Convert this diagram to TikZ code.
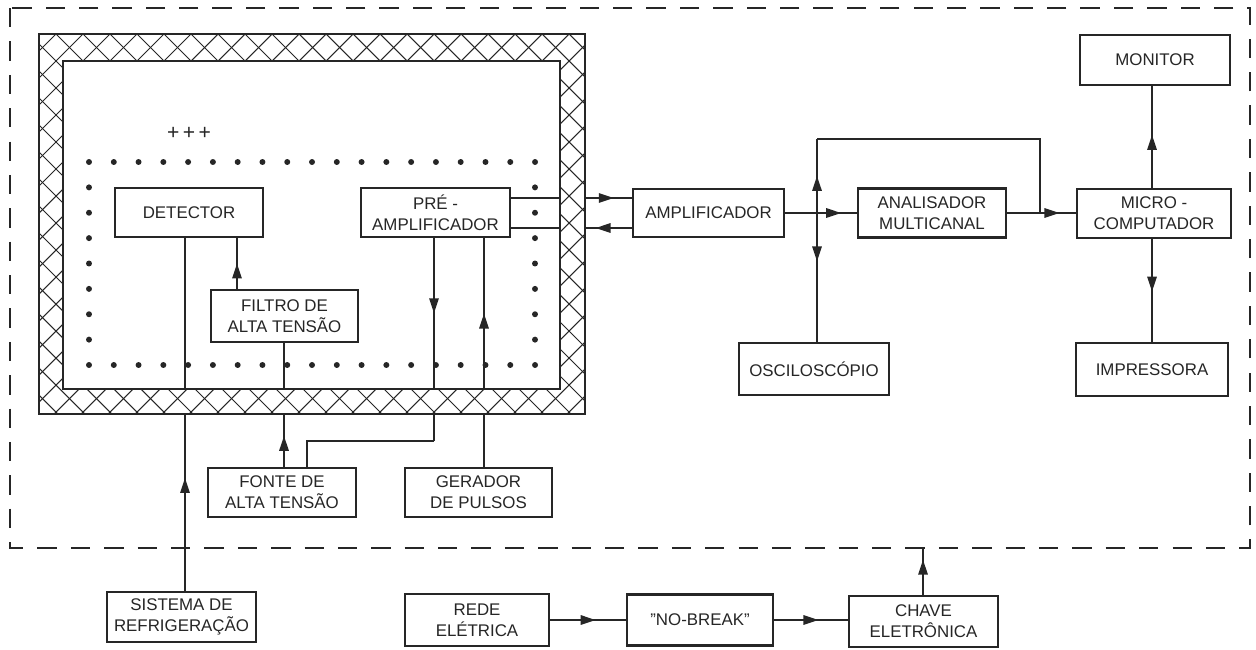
\documentclass[tikz,border=0pt]{standalone}
\usepackage{fontspec}
\setmainfont{Liberation Sans}
\usetikzlibrary{arrows.meta,decorations.markings,calc}
\definecolor{ink}{gray}{0.15}
\tikzset{
 box/.style={draw=ink, line width=1.3pt, align=center, inner sep=0pt, fill=white,
   font=\fontsize{9.6}{12}\selectfont, text=ink},
 sz/.style 2 args={minimum width=#1*0.02cm, minimum height=#2*0.02cm},
 wire/.style={draw=ink, line width=0.9pt},
 marr/.style={wire, postaction={decorate},
   decoration={markings, mark=at position #1 with {\arrow[ink]{Triangle[length=8.5pt,width=5.4pt]}}}},
 hatchline/.style={draw=ink, line width=0.6pt},
 dotmark/.style={fill=ink},
}
\begin{document}
\begin{tikzpicture}[x=0.02cm,y=-0.02cm]
\useasboundingbox (0,0) rectangle (1256,649);

% outer dashed enclosure
\draw[ink, line width=1.1pt, dash pattern=on 11pt off 8pt] (10,8) rectangle (1250,548);

% boxes
\node[box, sz={148}{49}] (det) at (189,212.5) {DETECTOR};
\node[box, sz={149}{49}] (pre) at (435.5,212.5) {PRÉ -\\AMPLIFICADOR};
\node[box, sz={147}{52}] (fil) at (284.5,316) {FILTRO DE\\ALTA TENSÃO};
\node[box, sz={148}{49}] (fon) at (282,492.5) {FONTE DE\\ALTA TENSÃO};
\node[box, sz={147}{49}] (gen) at (478.5,492.5) {GERADOR\\DE PULSOS};
\node[box, sz={151}{48}] (amp) at (708.5,213) {AMPLIFICADOR};
\node[box, sz={148}{49}] (ana) at (932,213) {ANALISADOR\\MULTICANAL};
\node[box, sz={154}{49}] (mic) at (1154,213.5) {MICRO -\\COMPUTADOR};
\node[box, sz={150}{50}] (mon) at (1155,60) {MONITOR};
\node[box, sz={150}{52}] (osc) at (814,369) {OSCILOSCÓPIO};
\node[box, sz={152}{53}] (imp) at (1152,369.5) {IMPRESSORA};
\node[box, sz={149}{50}] (sys) at (181.5,617) {SISTEMA DE\\REFRIGERAÇÃO};
\node[box, sz={144}{52}] (rede) at (477,620) {REDE\\ELÉTRICA};
\node[box, sz={146}{51}] (nob) at (700,620) {\symbol{34}NO-BREAK\symbol{34}};
\node[box, sz={149}{51}] (chv) at (923.5,621.5) {CHAVE\\ELETRÔNICA};

% helper coordinates
\coordinate (x185) at (185,0);
\coordinate (x237) at (237,0);
\coordinate (x284) at (284,0);
\coordinate (x484) at (484,0);
\coordinate (x1152) at (1152,0);
\coordinate (x817) at (817,0);
\coordinate (ya) at (0,198);
\coordinate (yb) at (0,228);
\coordinate (k1) at (434,441);
\coordinate (k2) at (307,441);
\coordinate (t1) at (817,139);
\coordinate (t2) at (1040,139);
\coordinate (j2) at (1040,213);
\coordinate (dtop) at (923,548);

% connectors
\draw[marr=0.32] (sys.north -| x185) -- (det.south -| x185);
\draw[marr=0.5] (fil.north -| x237) -- (det.south -| x237);
\draw[marr=0.25] (fon.north -| x284) -- (fil.south -| x284);
\draw[marr=0.37] (pre.south -| k1) -- (k1);
\draw[wire] (k1) -- (k2) -- (fon.north -| k2);
\draw[marr=0.67] (gen.north -| x484) -- (pre.south -| x484);
\draw[marr=0.85] (pre.east |- ya) -- (amp.west |- ya);
\draw[marr=0.3] (amp.west |- yb) -- (pre.east |- yb);
\draw[marr=0.78] (amp.east) -- (amp.east -| ana.west);
\coordinate (j1) at (amp.east -| x817);
\draw[marr=0.5] (j1) -- (t1);
\draw[wire] (t1) -- (t2) -- (j2);
\draw[marr=0.375] (j1) -- (osc.north -| j1);
\draw[marr=0.76] (ana.east) -- (ana.east -| mic.west);
\draw[marr=0.52] (mic.north -| x1152) -- (mon.south -| x1152);
\draw[marr=0.51] (mic.south -| x1152) -- (imp.north -| x1152);
\draw[marr=0.6] (rede.east) -- (rede.east -| nob.west);
\draw[marr=0.6] (nob.east) -- (nob.east -| chv.west);
\draw[marr=0.75] (chv.north -| dtop) -- (dtop);

% shield (hatched band)
\begin{scope}[even odd rule]
 \fill[white] (39,34) rectangle (585,414) (63,61) rectangle (560,389);
 \clip (39,34) rectangle (585,414) (63,61) rectangle (560,389);
 \foreach \c in {-430,-403,...,1020} {
   \draw[hatchline] (\c,34) -- ++(400,400);
   \draw[hatchline] (\c,34) -- ++(-400,400);
 }
\end{scope}
\draw[ink, line width=1.3pt] (39,34) rectangle (585,414) (63,61) rectangle (560,389);

% dotted enclosure
\foreach \i in {0,...,18} {
  \fill[dotmark] (89+24.78*\i,162) circle[radius=1.7pt];
  \fill[dotmark] (89+24.78*\i,365) circle[radius=1.7pt];
}
\foreach \j in {1,...,7} {
  \fill[dotmark] (89,162+25.375*\j) circle[radius=1.7pt];
  \fill[dotmark] (535,162+25.375*\j) circle[radius=1.7pt];
}
\node[text=ink, font=\fontsize{12}{12}\selectfont, inner sep=0pt] (plus) at (189,133) {+\kern2pt+\kern2pt+};
\end{tikzpicture}
\end{document}
